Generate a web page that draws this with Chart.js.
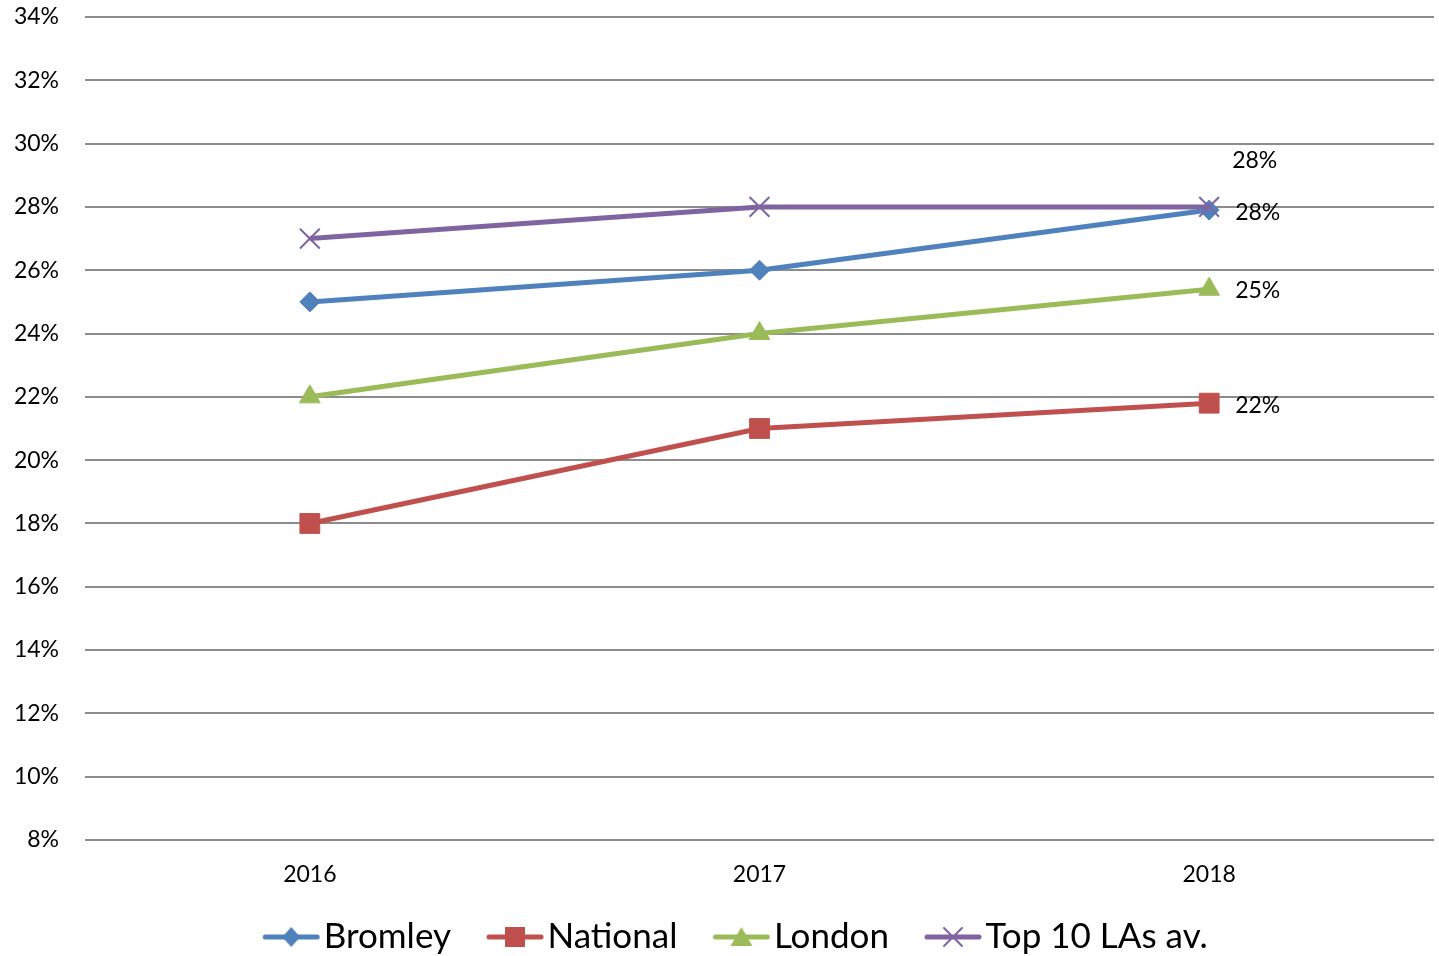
<!DOCTYPE html>
<html>
<head>
<meta charset="utf-8">
<script src="https://cdn.jsdelivr.net/npm/chart.js@4/dist/chart.umd.min.js"></script>
<style>
  html, body { margin: 0; padding: 0; background: #fff; }
  #wrap { width: 1439px; height: 956px; position: relative; }
</style>
</head>
<body>
<div id="wrap"><canvas id="chart"></canvas></div>
<script>
// Share of pupils (%) by year
const years = ['2016', '2017', '2018'];
const bromley = [25, 26, 27.9];
const national = [18, 21, 21.8];
const london = [22, 24, 25.4];
const top10 = [27, 28, 28];

const seriesNames = ['Bromley', 'National', 'London', 'Top 10 LAs av.'];
const seriesColors = ['#4F81BD', '#C0504D', '#9BBB59', '#8064A2'];

const FONT = 'Lato, "Open Sans", "Liberation Sans", sans-serif';

// Legend swatch: line segment with the series marker in the middle.
// The canvas carries transparent space on the left so the visible swatch
// sits close to the label text.
function legendSwatch(color, kind) {
  const c = document.createElement('canvas');
  c.width = 67; c.height = 24;
  const g = c.getContext('2d');
  const x0 = 9, x1 = 67, cx = (x0 + x1) / 2, cy = 12;
  g.strokeStyle = color; g.fillStyle = color; g.lineWidth = 5; g.lineCap = 'round';
  g.beginPath(); g.moveTo(x0 + 3, cy); g.lineTo(x1 - 3, cy); g.stroke();
  g.beginPath();
  if (kind === 'diamond') {
    g.moveTo(cx, cy - 10); g.lineTo(cx + 9, cy); g.lineTo(cx, cy + 10); g.lineTo(cx - 9, cy); g.closePath(); g.fill();
  } else if (kind === 'square') {
    g.fillRect(cx - 10, cy - 10, 20, 20);
  } else if (kind === 'triangle') {
    g.moveTo(cx, cy - 10); g.lineTo(cx + 11, cy + 9); g.lineTo(cx - 11, cy + 9); g.closePath(); g.fill();
  } else {
    g.lineWidth = 2;
    g.moveTo(cx - 9, cy - 9); g.lineTo(cx + 9, cy + 9);
    g.moveTo(cx + 9, cy - 9); g.lineTo(cx - 9, cy + 9); g.stroke();
  }
  return c;
}
const swatches = [
  legendSwatch(seriesColors[0], 'diamond'),
  legendSwatch(seriesColors[1], 'square'),
  legendSwatch(seriesColors[2], 'triangle'),
  legendSwatch(seriesColors[3], 'cross')
];

// Value labels beside the final point of each series
const endLabels = {
  id: 'endLabels',
  afterDatasetsDraw(chart) {
    const ctx = chart.ctx;
    const offsets = [[26, 2], [26, 2], [26, 1], [23, -46]];
    ctx.save();
    ctx.font = '23px ' + FONT;
    ctx.fillStyle = '#000';
    ctx.textAlign = 'left';
    ctx.textBaseline = 'middle';
    chart.data.datasets.forEach((ds, i) => {
      const meta = chart.getDatasetMeta(i);
      const last = meta.data.length - 1;
      const pt = meta.data[last];
      const txt = Math.round(ds.data[last]) + '%';
      ctx.fillText(txt, pt.x + offsets[i][0], pt.y + offsets[i][1]);
    });
    ctx.restore();
  }
};

// Nudge the legend row right of the canvas centre and up a little
const legendShift = {
  id: 'legendShift',
  afterLayout(chart) {
    const lg = chart.legend;
    if (lg) {
      lg.left += 18; lg.right += 18;
      lg.top -= 12.5; lg.bottom -= 12.5;
    }
  }
};

const ds = (label, data, color, style, radius, order, extra) => Object.assign({
  label, data,
  borderColor: color, backgroundColor: color,
  borderWidth: 5,
  pointStyle: style, pointRadius: radius, pointHoverRadius: radius,
  pointBackgroundColor: color, pointBorderColor: color, pointBorderWidth: 1,
  tension: 0, order
}, extra || {});

new Chart(document.getElementById('chart'), {
  type: 'line',
  data: {
    labels: years,
    datasets: [
      ds(seriesNames[0], bromley, seriesColors[0], 'rectRot', 10, 3),
      ds(seriesNames[1], national, seriesColors[1], 'rect', 14, 2),
      ds(seriesNames[2], london, seriesColors[2], 'triangle', 12, 1),
      ds(seriesNames[3], top10, seriesColors[3], 'crossRot', 14, 0, { pointBorderWidth: 2 })
    ]
  },
  options: {
    responsive: true,
    maintainAspectRatio: false,
    animation: false,
    layout: { autoPadding: false, padding: { left: 5, right: 5, top: 0, bottom: -21 } },
    scales: {
      x: {
        offset: true,
        afterFit(scale) { scale.height = 52; },
        grid: { display: false },
        border: { display: false },
        ticks: { font: { family: FONT, size: 23 }, color: '#000', padding: 13 }
      },
      y: {
        min: 8, max: 34,
        afterFit(scale) { scale.width = 80; scale.paddingTop = 17; scale.paddingBottom = 0; },
        ticks: {
          stepSize: 2,
          font: { family: FONT, size: 23 }, color: '#000', padding: 26,
          callback: v => v + '%'
        },
        grid: { color: '#8c8c8c', lineWidth: 2, drawTicks: false },
        border: { display: false }
      }
    },
    plugins: {
      tooltip: { enabled: false },
      legend: {
        position: 'bottom',
        labels: {
          usePointStyle: true,
          pointStyleWidth: 39,
          padding: 40,
          color: '#000',
          font: { family: FONT, size: 35 },
          generateLabels(chart) {
            return chart.data.datasets.map((d, i) => ({
              text: d.label,
              pointStyle: swatches[i],
              fillStyle: d.borderColor,
              strokeStyle: d.borderColor,
              lineWidth: 0,
              hidden: false,
              datasetIndex: i,
              fontColor: '#000'
            }));
          }
        }
      }
    }
  },
  plugins: [endLabels, legendShift]
});
</script>
</body>
</html>
